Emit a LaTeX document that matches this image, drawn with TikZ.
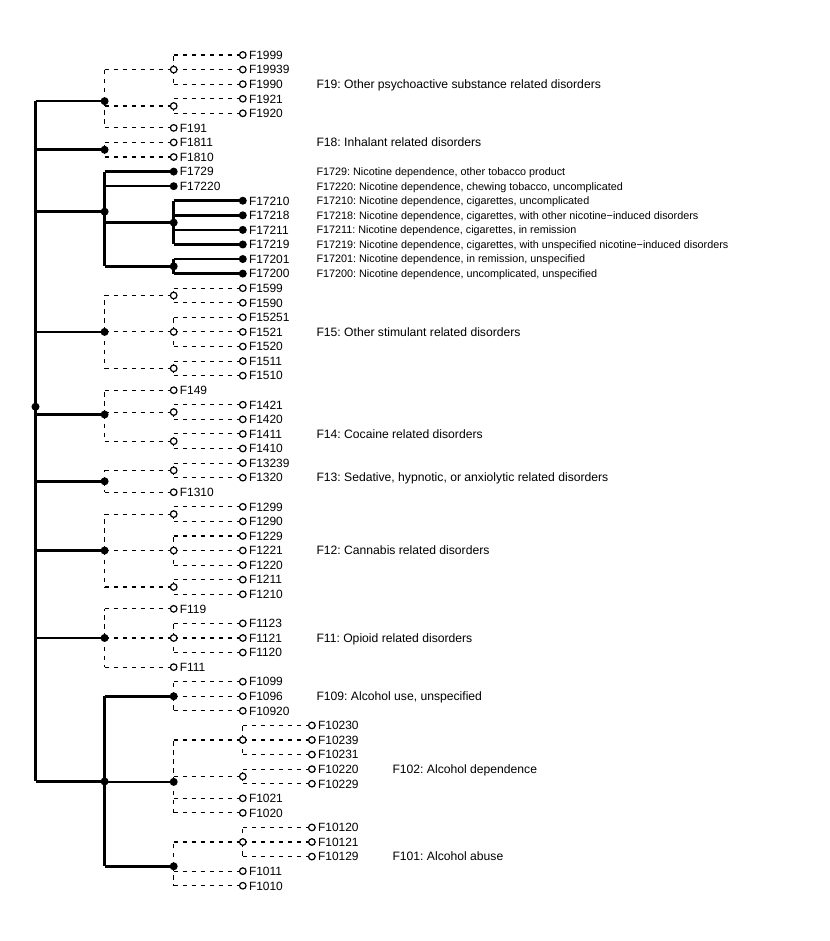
\documentclass[tikz,border=0pt]{standalone}
\usepackage{fontspec}
\setmainfont{Liberation Sans}
\frenchspacing
\usetikzlibrary{backgrounds}
\tikzset{
  hol/.style={circle, draw=black, fill=white, line width=1.2bp, inner sep=0pt, minimum size=6.6bp},
  dot/.style={circle, fill=black, inner sep=0pt, minimum size=8bp},
  thk/.style={line width=2.5bp},
  dsh/.style={line width=1.1bp, dash pattern=on 4.5bp off 4.5bp},
  lt/.style={anchor=base west, inner sep=0pt, font=\fontsize{12}{14}\selectfont\frenchspacing},
  gt/.style={anchor=base west, inner sep=0pt, font=\fontsize{12.2}{14}\selectfont\frenchspacing},
  dt/.style={anchor=base west, inner sep=0pt, font=\fontsize{10.85}{13}\selectfont\frenchspacing},
}
\newcommand\lf[5]{\node[#5] (#1) at (#2,#3) {}; \node[lt, xshift=6bp, yshift=-4.3bp] (#1t) at (#1.center) {#4};}
\newcommand\nd[4]{\node[#4] (#1) at (#2,#3) {};}
\newcommand\ed[3]{\draw[#1] (#2.center) -- (#2.center |- #3.center); \draw[#1] (#2.center |- #3.center) -- (#3.center);}
\begin{document}
\begin{tikzpicture}[x=1bp,y=-14.574bp]
\useasboundingbox (0,-2.774) rectangle (830,61.793);
% root
\nd{R}{35.5}{25.131}{dot}
% F19
\nd{g19}{104.6}{4.1667}{dot}
\nd{g199}{173.7}{2}{hol}
\lf{F1999}{242.8}{1}{F1999}{hol}
\lf{F19939}{242.8}{2}{F19939}{hol}
\lf{F1990}{242.8}{3}{F1990}{hol}
\nd{g192}{173.7}{4.5}{hol}
\lf{F1921}{242.8}{4}{F1921}{hol}
\lf{F1920}{242.8}{5}{F1920}{hol}
\lf{F191}{173.7}{6}{F191}{hol}
% F18
\nd{g18}{104.6}{7.5}{dot}
\lf{F1811}{173.7}{7}{F1811}{hol}
\lf{F1810}{173.7}{8}{F1810}{hol}
% F17
\nd{g17}{104.6}{11.75}{dot}
\lf{F1729}{173.7}{9}{F1729}{dot}
\lf{F17220}{173.7}{10}{F17220}{dot}
\nd{g1721}{173.7}{12.5}{dot}
\lf{F17210}{242.8}{11}{F17210}{dot}
\lf{F17218}{242.8}{12}{F17218}{dot}
\lf{F17211}{242.8}{13}{F17211}{dot}
\lf{F17219}{242.8}{14}{F17219}{dot}
\nd{g1720}{173.7}{15.5}{dot}
\lf{F17201}{242.8}{15}{F17201}{dot}
\lf{F17200}{242.8}{16}{F17200}{dot}
% F15
\nd{g15}{104.6}{20}{dot}
\nd{g159}{173.7}{17.5}{hol}
\lf{F1599}{242.8}{17}{F1599}{hol}
\lf{F1590}{242.8}{18}{F1590}{hol}
\nd{g152}{173.7}{20}{hol}
\lf{F15251}{242.8}{19}{F15251}{hol}
\lf{F1521}{242.8}{20}{F1521}{hol}
\lf{F1520}{242.8}{21}{F1520}{hol}
\nd{g151}{173.7}{22.5}{hol}
\lf{F1511}{242.8}{22}{F1511}{hol}
\lf{F1510}{242.8}{23}{F1510}{hol}
% F14
\nd{g14}{104.6}{25.6667}{dot}
\lf{F149}{173.7}{24}{F149}{hol}
\nd{g142}{173.7}{25.5}{hol}
\lf{F1421}{242.8}{25}{F1421}{hol}
\lf{F1420}{242.8}{26}{F1420}{hol}
\nd{g141}{173.7}{27.5}{hol}
\lf{F1411}{242.8}{27}{F1411}{hol}
\lf{F1410}{242.8}{28}{F1410}{hol}
% F13
\nd{g13}{104.6}{30.25}{dot}
\nd{g132}{173.7}{29.5}{hol}
\lf{F13239}{242.8}{29}{F13239}{hol}
\lf{F1320}{242.8}{30}{F1320}{hol}
\lf{F1310}{173.7}{31}{F1310}{hol}
% F12
\nd{g12}{104.6}{35}{dot}
\nd{g129}{173.7}{32.5}{hol}
\lf{F1299}{242.8}{32}{F1299}{hol}
\lf{F1290}{242.8}{33}{F1290}{hol}
\nd{g122}{173.7}{35}{hol}
\lf{F1229}{242.8}{34}{F1229}{hol}
\lf{F1221}{242.8}{35}{F1221}{hol}
\lf{F1220}{242.8}{36}{F1220}{hol}
\nd{g121}{173.7}{37.5}{hol}
\lf{F1211}{242.8}{37}{F1211}{hol}
\lf{F1210}{242.8}{38}{F1210}{hol}
% F11
\nd{g11}{104.6}{41}{dot}
\lf{F119}{173.7}{39}{F119}{hol}
\nd{g112}{173.7}{41}{hol}
\lf{F1123}{242.8}{40}{F1123}{hol}
\lf{F1121}{242.8}{41}{F1121}{hol}
\lf{F1120}{242.8}{42}{F1120}{hol}
\lf{F111}{173.7}{43}{F111}{hol}
% F10
\nd{g10}{104.6}{50.847}{dot}
\nd{g109}{173.7}{45}{dot}
\lf{F1099}{242.8}{44}{F1099}{hol}
\lf{F1096}{242.8}{45}{F1096}{hol}
\lf{F10920}{242.8}{46}{F10920}{hol}
\nd{g102}{173.7}{50.875}{dot}
\nd{g1023}{242.8}{48}{hol}
\lf{F10230}{311.9}{47}{F10230}{hol}
\lf{F10239}{311.9}{48}{F10239}{hol}
\lf{F10231}{311.9}{49}{F10231}{hol}
\nd{g1022}{242.8}{50.5}{hol}
\lf{F10220}{311.9}{50}{F10220}{hol}
\lf{F10229}{311.9}{51}{F10229}{hol}
\lf{F1021}{242.8}{52}{F1021}{hol}
\lf{F1020}{242.8}{53}{F1020}{hol}
\nd{g101}{173.7}{56.6667}{dot}
\nd{g1012}{242.8}{55}{hol}
\lf{F10120}{311.9}{54}{F10120}{hol}
\lf{F10121}{311.9}{55}{F10121}{hol}
\lf{F10129}{311.9}{56}{F10129}{hol}
\lf{F1011}{242.8}{57}{F1011}{hol}
\lf{F1010}{242.8}{58}{F1010}{hol}
% group labels
\node[gt, yshift=-4.3bp] (l19) at (316.3,3) {F19: Other psychoactive substance related disorders};
\node[gt, yshift=-4.3bp] (l18) at (316.3,7) {F18: Inhalant related disorders};
\node[gt, yshift=-4.3bp] (l15) at (316.3,20) {F15: Other stimulant related disorders};
\node[gt, yshift=-4.3bp] (l14) at (316.3,27) {F14: Cocaine related disorders};
\node[gt, yshift=-4.3bp] (l13) at (316.3,30) {F13: Sedative, hypnotic, or anxiolytic related disorders};
\node[gt, yshift=-4.3bp] (l12) at (316.3,35) {F12: Cannabis related disorders};
\node[gt, yshift=-4.3bp] (l11) at (316.3,41) {F11: Opioid related disorders};
\node[gt, yshift=-4.3bp] (l109) at (316.3,45) {F109: Alcohol use, unspecified};
\node[gt, yshift=-4.3bp] (l102) at (392.3,50) {F102: Alcohol dependence};
\node[gt, yshift=-4.3bp] (l101) at (392.3,56) {F101: Alcohol abuse};
% nicotine descriptions
\node[dt, yshift=-3.9bp] (d1729) at (316.3,9) {F1729: Nicotine dependence, other tobacco product};
\node[dt, yshift=-3.9bp] (d17220) at (316.3,10) {F17220: Nicotine dependence, chewing tobacco, uncomplicated};
\node[dt, yshift=-3.9bp] (d17210) at (316.3,11) {F17210: Nicotine dependence, cigarettes, uncomplicated};
\node[dt, yshift=-3.9bp] (d17218) at (316.3,12) {F17218: Nicotine dependence, cigarettes, with other nicotine−induced disorders};
\node[dt, yshift=-3.9bp] (d17211) at (316.3,13) {F17211: Nicotine dependence, cigarettes, in remission};
\node[dt, yshift=-3.9bp] (d17219) at (316.3,14) {F17219: Nicotine dependence, cigarettes, with unspecified nicotine−induced disorders};
\node[dt, yshift=-3.9bp] (d17201) at (316.3,15) {F17201: Nicotine dependence, in remission, unspecified};
\node[dt, yshift=-3.9bp] (d17200) at (316.3,16) {F17200: Nicotine dependence, uncomplicated, unspecified};
% edges
\begin{pgfonlayer}{background}
\foreach \g in {g19,g18,g17,g15,g14,g13,g12,g11,g10} {\ed{thk}{R}{\g}}
% F19
\ed{dsh}{g19}{g199}\ed{dsh}{g19}{g192}\ed{dsh}{g19}{F191}
\ed{dsh}{g199}{F1999}\ed{dsh}{g199}{F19939}\ed{dsh}{g199}{F1990}
\ed{dsh}{g192}{F1921}\ed{dsh}{g192}{F1920}
% F18
\ed{dsh}{g18}{F1811}\ed{dsh}{g18}{F1810}
% F17
\ed{thk}{g17}{F1729}\ed{thk}{g17}{F17220}\ed{thk}{g17}{g1721}\ed{thk}{g17}{g1720}
\ed{thk}{g1721}{F17210}\ed{thk}{g1721}{F17218}\ed{thk}{g1721}{F17211}\ed{thk}{g1721}{F17219}
\ed{thk}{g1720}{F17201}\ed{thk}{g1720}{F17200}
% F15
\ed{dsh}{g15}{g159}\ed{dsh}{g15}{g152}\ed{dsh}{g15}{g151}
\ed{dsh}{g159}{F1599}\ed{dsh}{g159}{F1590}
\ed{dsh}{g152}{F15251}\ed{dsh}{g152}{F1521}\ed{dsh}{g152}{F1520}
\ed{dsh}{g151}{F1511}\ed{dsh}{g151}{F1510}
% F14
\ed{dsh}{g14}{F149}\ed{dsh}{g14}{g142}\ed{dsh}{g14}{g141}
\ed{dsh}{g142}{F1421}\ed{dsh}{g142}{F1420}
\ed{dsh}{g141}{F1411}\ed{dsh}{g141}{F1410}
% F13
\ed{dsh}{g13}{g132}\ed{dsh}{g13}{F1310}
\ed{dsh}{g132}{F13239}\ed{dsh}{g132}{F1320}
% F12
\ed{dsh}{g12}{g129}\ed{dsh}{g12}{g122}\ed{dsh}{g12}{g121}
\ed{dsh}{g129}{F1299}\ed{dsh}{g129}{F1290}
\ed{dsh}{g122}{F1229}\ed{dsh}{g122}{F1221}\ed{dsh}{g122}{F1220}
\ed{dsh}{g121}{F1211}\ed{dsh}{g121}{F1210}
% F11
\ed{dsh}{g11}{F119}\ed{dsh}{g11}{g112}\ed{dsh}{g11}{F111}
\ed{dsh}{g112}{F1123}\ed{dsh}{g112}{F1121}\ed{dsh}{g112}{F1120}
% F10
\ed{thk}{g10}{g109}\ed{thk}{g10}{g102}\ed{thk}{g10}{g101}
\ed{dsh}{g109}{F1099}\ed{dsh}{g109}{F1096}\ed{dsh}{g109}{F10920}
\ed{dsh}{g102}{g1023}\ed{dsh}{g102}{g1022}\ed{dsh}{g102}{F1021}\ed{dsh}{g102}{F1020}
\ed{dsh}{g1023}{F10230}\ed{dsh}{g1023}{F10239}\ed{dsh}{g1023}{F10231}
\ed{dsh}{g1022}{F10220}\ed{dsh}{g1022}{F10229}
\ed{dsh}{g101}{g1012}\ed{dsh}{g101}{F1011}\ed{dsh}{g101}{F1010}
\ed{dsh}{g1012}{F10120}\ed{dsh}{g1012}{F10121}\ed{dsh}{g1012}{F10129}
\end{pgfonlayer}
\end{tikzpicture}
\end{document}
